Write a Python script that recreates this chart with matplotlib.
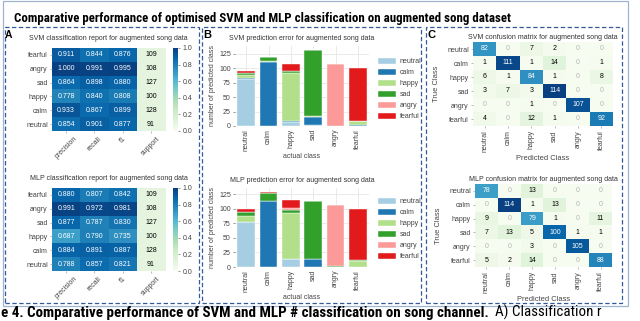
import numpy as np
import matplotlib
matplotlib.use('Agg')
import matplotlib.pyplot as plt
from matplotlib import font_manager
from matplotlib.font_manager import FontProperties
from matplotlib.patches import Rectangle
from matplotlib.colors import ListedColormap

W, H = 640, 321
plt.rcParams['font.family'] = ['Liberation Sans', 'DejaVu Sans']

# ---------------- data ----------------
classes = ['neutral', 'calm', 'happy', 'sad', 'angry', 'fearful']
report_rows = ['fearful', 'angry', 'sad', 'happy', 'calm', 'neutral']
metrics = ['precision', 'recall', 'f1', 'support']

svm_precision = [0.911, 1.000, 0.864, 0.778, 0.933, 0.854]
svm_recall = [0.844, 0.991, 0.898, 0.840, 0.867, 0.901]
svm_f1 = [0.876, 0.995, 0.880, 0.808, 0.899, 0.877]
svm_support = [109, 108, 127, 100, 128, 91]

mlp_precision = [0.880, 0.991, 0.877, 0.687, 0.884, 0.788]
mlp_recall = [0.807, 0.972, 0.787, 0.790, 0.891, 0.857]
mlp_f1 = [0.842, 0.981, 0.830, 0.735, 0.887, 0.821]
mlp_support = [109, 108, 127, 100, 128, 91]

# rows = true class, cols = predicted class (order of `classes`)
svm_cm = [[82, 0, 7, 2, 0, 0],
          [1, 111, 1, 14, 0, 1],
          [6, 1, 84, 1, 0, 8],
          [3, 7, 3, 114, 0, 0],
          [0, 0, 1, 0, 107, 0],
          [4, 0, 12, 1, 0, 92]]
mlp_cm = [[78, 0, 13, 0, 0, 0],
          [0, 114, 1, 13, 0, 0],
          [9, 0, 79, 1, 0, 11],
          [7, 13, 5, 100, 1, 1],
          [0, 0, 3, 0, 105, 0],
          [5, 2, 14, 0, 0, 88]]

bar_colors = ['#a6cee3', '#1f78b4', '#b2df8a', '#33a02c', '#fb9a99', '#e31a1c']

TXT = '#444444'
FS = 5.0


# ---------------- condensed font lookup ----------------
def _weight(f):
    w = f.weight
    if isinstance(w, str):
        w = font_manager.weight_dict.get(w, 400)
    return w


def condensed_font(bold):
    pref = ['liberation sans narrow', 'arial narrow', 'roboto condensed',
            'open sans condensed', 'noto sans', 'dejavu sans', 'liberation sans', 'open sans', 'roboto']
    cands = []
    for f in font_manager.fontManager.ttflist:
        st = str(f.stretch).lower()
        nm = f.name.lower()
        fn = f.fname.lower()
        is_cond = ('condensed' in st or 'narrow' in nm or 'condensed' in nm
                   or 'narrow' in fn or 'condensed' in fn) and 'extra' not in st and 'ultra' not in st
        if not is_cond or str(f.style) != 'normal':
            continue
        w = _weight(f)
        if (bold and w >= 600 and w <= 800) or (not bold and 350 <= w <= 500):
            rank = len(pref)
            for k, p in enumerate(pref):
                if nm.startswith(p):
                    rank = k
                    break
            cands.append((rank, f.fname))
    if cands:
        cands.sort()
        return FontProperties(fname=cands[0][1])
    return FontProperties(family='Liberation Sans', weight='bold' if bold else 'normal')


FP_BOLD = condensed_font(True)
FP_REG = condensed_font(False)

fig = plt.figure(figsize=(W / 100, H / 100), dpi=100)


def ax_px(x0, y0, x1, y1):
    return fig.add_axes([x0 / W, 1 - y1 / H, (x1 - x0) / W, (y1 - y0) / H])


def ftext(x, y, s, **kw):
    return fig.text(x / W, 1 - y / H, s, **kw)


# ---------------- frames ----------------
fig.add_artist(Rectangle((3 / W, 1 - 306 / H), 625 / W, 305 / H, transform=fig.transFigure,
                         fill=False, ec='#9fb3d1', lw=0.9))
for (x0, x1) in [(5, 199), (202, 421), (426, 622)]:
    fig.add_artist(Rectangle((x0 / W, 1 - 303 / H), (x1 - x0) / W, 276 / H,
                             transform=fig.transFigure, fill=False, ec='#36599a',
                             lw=0.9, ls=(0, (3.5, 2))))


# ---------------- panel A : classification reports ----------------
def report(ax, cax, prec, rec, f1, sup, title):
    data = np.array([prec, rec, f1]).T
    im = ax.imshow(data, cmap='GnBu', vmin=0, vmax=1, aspect='auto',
                   extent=(-0.5, 2.5, 5.5, -0.5))
    ax.imshow(np.array(sup, dtype=float)[:, None], cmap=ListedColormap(['#e4f4df']),
              aspect='auto', extent=(2.5, 3.5, 5.5, -0.5))
    ax.set_xlim(-0.5, 3.5)
    ax.set_ylim(5.5, -0.5)
    for i in range(6):
        for j in range(3):
            ax.text(j, i, f'{data[i, j]:.3f}', ha='center', va='center',
                    color='white', fontsize=FS)
        ax.text(3, i, str(sup[i]), ha='center', va='center', color='black', fontsize=FS)
    ax.set_xticks(range(4))
    ax.set_xticklabels(metrics, rotation=45, fontsize=FS, color=TXT)
    ax.set_yticks(range(6))
    ax.set_yticklabels(report_rows, fontsize=FS, color=TXT)
    ax.tick_params(length=1.5, width=0.4, pad=1.5, color='#888888')
    for s in ax.spines.values():
        s.set_visible(False)
    ax.set_title(title, fontsize=FS, color='#333333', pad=6)
    cb = fig.colorbar(im, cax=cax)
    cb.set_ticks([0, 0.2, 0.4, 0.6, 0.8, 1.0])
    cb.ax.tick_params(labelsize=FS, length=1.5, width=0.4, pad=2, colors=TXT)
    cb.outline.set_visible(False)


report(ax_px(52, 48, 165, 131), ax_px(173, 48, 178, 131),
       svm_precision, svm_recall, svm_f1, svm_support,
       'SVM classification report for augmented song data')
report(ax_px(52, 188, 165, 271), ax_px(173, 188, 178, 271),
       mlp_precision, mlp_recall, mlp_f1, mlp_support,
       'MLP classification report for augmented song data')


# ---------------- panel B : stacked bars ----------------
def bars(ax, cm, title, leg_xy):
    cm = np.array(cm)
    x = np.arange(len(classes))
    bottom = np.zeros(len(classes))
    for i, cls in enumerate(classes):
        ax.bar(x, cm[i], bottom=bottom, width=0.8, color=bar_colors[i], label=cls,
               edgecolor='white', linewidth=0.3, zorder=2)
        bottom = bottom + cm[i]
    ax.set_xlim(-0.5, 5.5)
    ax.set_ylim(0, bottom.max() * 1.05)
    ax.set_yticks([0, 25, 50, 75, 100, 125])
    ax.set_xticks(x)
    ax.set_xticklabels(classes, rotation=90, fontsize=FS, color=TXT)
    ax.tick_params(axis='y', labelsize=FS, colors=TXT, length=1.5, width=0.4, pad=1.5)
    ax.tick_params(axis='x', length=0, pad=2)
    ax.grid(True, color='#e6e6e6', lw=0.6, zorder=0)
    ax.set_axisbelow(True)
    for s in ax.spines.values():
        s.set_visible(False)
    ax.set_title(title, fontsize=FS, color='#333333', pad=4)
    ax.set_xlabel('actual class', fontsize=FS, color=TXT, labelpad=2)
    ax.set_ylabel('number of predicted class', fontsize=FS, color=TXT, labelpad=2)
    ax.legend(loc='upper left', bbox_to_anchor=(leg_xy[0] / W, 1 - leg_xy[1] / H),
              bbox_transform=fig.transFigure, frameon=False, fontsize=FS,
              handlelength=2.6, handleheight=1.0, labelspacing=0.5,
              handletextpad=0.5, borderpad=0, borderaxespad=0, labelcolor=TXT)


bars(ax_px(235, 46, 369, 126), svm_cm, 'SVM prediction error for augmented song data', (378, 58))
bars(ax_px(235, 188, 369, 267), mlp_cm, 'MLP prediction error for augmented song data', (378, 198))


# ---------------- panel C : confusion matrices ----------------
def confusion(ax, cm, title):
    cm = np.array(cm)
    vmax = cm.max()
    ax.imshow(cm, cmap='GnBu', vmin=0, vmax=vmax, aspect='auto')
    for i in range(6):
        for j in range(6):
            v = cm[i, j]
            if v == 0:
                c = '#b5b5b5'
            elif v > 0.5 * vmax:
                c = 'white'
            else:
                c = 'black'
            ax.text(j, i, str(v), ha='center', va='center', color=c, fontsize=FS)
    ax.set_xticks(range(6))
    ax.set_xticklabels(classes, rotation=90, fontsize=FS, color=TXT)
    ax.set_yticks(range(6))
    ax.set_yticklabels(classes, fontsize=FS, color=TXT)
    ax.tick_params(length=1.5, width=0.4, pad=1.5, color='#888888')
    for s in ax.spines.values():
        s.set_visible(False)
    ax.set_title(title, fontsize=FS, color='#333333', pad=2)
    ax.set_xlabel('Predicted Class', fontsize=FS + 0.4, color=TXT, labelpad=2)
    ax.set_ylabel('True Class', fontsize=FS + 0.4, color=TXT, labelpad=5)


confusion(ax_px(473, 42, 613, 126), svm_cm, 'SVM confusion matrix for augmented song data')
confusion(ax_px(475, 184, 612, 267), mlp_cm, 'MLP confusion matrix for augmented song data')

# ---------------- labels & titles ----------------
ftext(5, 37.5, 'A', fontsize=7.5, fontweight='bold', va='baseline')
ftext(203, 38, 'B', fontsize=8, fontweight='bold', va='baseline')
ftext(428, 37.5, 'C', fontsize=8, fontweight='bold', va='baseline')

renderer = fig.canvas.get_renderer()


def fit(t, target_w):
    w = t.get_window_extent(renderer).width
    t.set_fontsize(t.get_fontsize() * target_w / w)


title = ftext(14, 22, 'Comparative performance of optimised SVM and MLP classification on augmented song dataset',
              fontproperties=FP_BOLD.copy(), va='baseline')
title.set_fontsize(10)
fit(title, 498)

cap1 = ftext(1, 317, 'e 4. Comparative performance of SVM and MLP # classification on song channel.',
             fontproperties=FP_BOLD.copy(), va='baseline')
cap1.set_fontsize(11)
fit(cap1, 484)
cap_end = cap1.get_window_extent(renderer).x1
cap2 = ftext(cap_end + 6, 317, 'A) Classification r', fontproperties=FP_REG.copy(), va='baseline')
cap2.set_fontsize(cap1.get_fontsize())
w2 = cap2.get_window_extent(renderer).width
room = 638 - (cap_end + 6)
if w2 > room:
    fit(cap2, room)

fig.savefig('out.png', dpi=100)
